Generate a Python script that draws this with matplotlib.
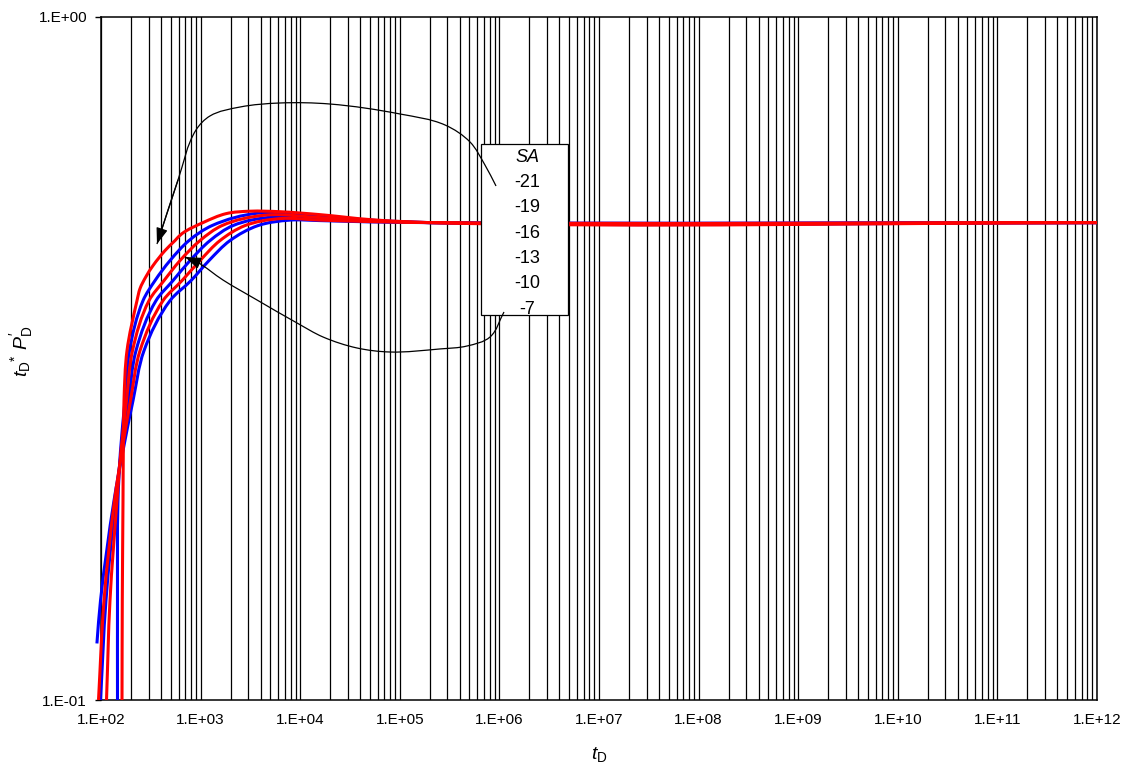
import numpy as np
import matplotlib
matplotlib.use("Agg")
import matplotlib.pyplot as plt
from matplotlib.path import Path
from matplotlib.patches import PathPatch, Rectangle
from matplotlib.ticker import LogLocator, NullLocator, NullFormatter

plt.rcParams['font.family'] = ['Liberation Sans', 'DejaVu Sans']
plt.rcParams['mathtext.fontset'] = 'custom'
plt.rcParams['mathtext.rm'] = 'Liberation Sans'
plt.rcParams['mathtext.it'] = 'Liberation Sans:italic'
plt.rcParams['mathtext.fallback'] = 'stixsans'

# ---- type-curve data: dimensionless time vs. tD*PD' for each SA value ----
sa_values = [-21, -19, -16, -13, -10, -7]
series_colors = ['red', 'blue', 'red', 'blue', 'red', 'blue']

td_sa21 = [162.5, 163.6, 166.3, 167.5, 170.2, 182.4, 229.8, 246.4, 283.0, 332.7,
           439.1, 553.3, 650.5, 1057, 1799, 3133, 6268, 15800, 50220, 201000, 1e12]
dp_sa21 = [0.100, 0.1399, 0.1959, 0.2318, 0.2744, 0.3247, 0.3843, 0.4003, 0.4168, 0.4325,
           0.4550, 0.4706, 0.4818, 0.5000, 0.5153, 0.5196, 0.5187, 0.5136, 0.5051, 0.5000, 0.5000]

td_sa19 = [146.4, 146.4, 148.1, 157.0, 174.2, 193.2, 264.1, 348.4, 492.9, 764.4,
           1302, 3770, 15800, 50220, 201000, 1e12]
dp_sa19 = [0.100, 0.1399, 0.1959, 0.2318, 0.2744, 0.3247, 0.3843, 0.4112, 0.4399, 0.4706,
           0.4950, 0.5162, 0.5110, 0.5042, 0.5000, 0.5000]

td_sa16 = [113.6, 123.1, 144.7, 158.8, 180.3, 207.2, 303.3, 429.1, 621.1, 986.3,
           1640, 4432, 15800, 50220, 201000, 1e12]
dp_sa16 = [0.100, 0.1399, 0.1959, 0.2318, 0.2744, 0.3247, 0.3843, 0.4112, 0.4399, 0.4706,
           0.4950, 0.5127, 0.5085, 0.5034, 0.5000, 0.5000]

td_sa13 = [98.9, 112.2, 139.8, 160.6, 188.9, 224.6, 356.6, 528.3, 782.8, 1243,
           2115, 5212, 15800, 50220, 201000, 1e12]
dp_sa13 = [0.100, 0.1399, 0.1959, 0.2318, 0.2744, 0.3247, 0.3843, 0.4112, 0.4399, 0.4706,
           0.4950, 0.5093, 0.5059, 0.5025, 0.5000, 0.5000]

td_sa10 = [94.4, 107.2, 136.7, 162.5, 197.8, 246.4, 419.3, 650.5, 986.3, 1566,
           2792, 6268, 15800, 50220, 201000, 1e12]
dp_sa10 = [0.100, 0.1399, 0.1959, 0.2318, 0.2744, 0.3247, 0.3843, 0.4112, 0.4399, 0.4706,
           0.4950, 0.5068, 0.5042, 0.5017, 0.5000, 0.5000]

td_sa7 = [91.0, 98.9, 135.1, 166.3, 209.6, 270.3, 492.9, 801.0, 1214, 1973,
          3770, 7898, 15800, 50220, 201000, 1e12]
dp_sa7 = [0.1210, 0.1399, 0.1959, 0.2318, 0.2744, 0.3247, 0.3843, 0.4112, 0.4399, 0.4706,
          0.4950, 0.5042, 0.5034, 0.5012, 0.5000, 0.5000]

series_td = [td_sa21, td_sa19, td_sa16, td_sa13, td_sa10, td_sa7]
series_dp = [dp_sa21, dp_sa19, dp_sa16, dp_sa13, dp_sa10, dp_sa7]

xtick_values = [1e2, 1e3, 1e4, 1e5, 1e6, 1e7, 1e8, 1e9, 1e10, 1e11, 1e12]
xtick_labels = ['1.E+02', '1.E+03', '1.E+04', '1.E+05', '1.E+06', '1.E+07',
                '1.E+08', '1.E+09', '1.E+10', '1.E+11', '1.E+12']
ytick_values = [0.1, 1.0]
ytick_labels = ['1.E-01', '1.E+00']

# callout leader curves (axes fraction), drawn from the arrow tip to the label box
leader_top = [(0.0562, 0.6676), (0.0773, 0.7613), (0.0954, 0.8346), (0.1094, 0.8551),
              (0.1396, 0.8682), (0.1797, 0.8741), (0.2299, 0.8726), (0.3002, 0.8580),
              (0.3454, 0.8419), (0.3705, 0.8170), (0.3855, 0.7833), (0.3966, 0.7526)]
leader_bottom = [(0.0843, 0.6486), (0.0964, 0.6413), (0.1225, 0.6149), (0.1566, 0.5857),
                 (0.1968, 0.5520), (0.2229, 0.5315), (0.2570, 0.5154), (0.2902, 0.5095),
                 (0.3404, 0.5140), (0.3675, 0.5183), (0.3906, 0.5315), (0.4046, 0.5681)]


def smooth_path(P):
    """Cubic Bezier through the points P (N x 2), tangents from unit-vector bisectors."""
    P = np.asarray(P, dtype=float)
    n = len(P)
    T = np.zeros_like(P)
    for i in range(n):
        if i == 0:
            d = P[1] - P[0]
        elif i == n - 1:
            d = P[-1] - P[-2]
        else:
            d1 = P[i] - P[i - 1]
            d2 = P[i + 1] - P[i]
            n1 = np.linalg.norm(d1)
            n2 = np.linalg.norm(d2)
            d = (d1 / n1 if n1 > 0 else 0) + (d2 / n2 if n2 > 0 else 0)
        nd = np.linalg.norm(d)
        T[i] = d / nd if nd > 0 else d
    verts = [P[0]]
    codes = [Path.MOVETO]
    for i in range(n - 1):
        L = np.linalg.norm(P[i + 1] - P[i])
        verts += [P[i] + T[i] * L / 3, P[i + 1] - T[i + 1] * L / 3, P[i + 1]]
        codes += [Path.CURVE4] * 3
    return np.array(verts), codes


W, H, DPI = 1126, 767, 100
fig = plt.figure(figsize=(W / DPI, H / DPI), dpi=DPI)
ax_left, ax_right, ax_bottom, ax_top = 101 / W, 1097 / W, 67 / H, 750 / H
ax = fig.add_axes([ax_left, ax_bottom, ax_right - ax_left, ax_top - ax_bottom])
ax.set_xscale('log')
ax.set_yscale('log')
ax.set_xlim(1e2, 1e12)
ax.set_ylim(0.1, 1.0)

ax_w_px = (ax_right - ax_left) * W
ax_h_px = (ax_top - ax_bottom) * H
px_per_dec_x = ax_w_px / 10.0
px_per_dec_y = ax_h_px / 1.0

# vertical grid on every decade subdivision
ax.xaxis.set_minor_locator(LogLocator(base=10, subs=np.arange(2, 10), numticks=100))
ax.xaxis.set_minor_formatter(NullFormatter())
ax.yaxis.set_minor_locator(NullLocator())
ax.set_axisbelow(True)
ax.grid(True, which='both', axis='x', color='black', lw=0.9)
ax.grid(False, axis='y')

ax.set_xticks(xtick_values, xtick_labels)
ax.set_yticks(ytick_values, ytick_labels)
ax.tick_params(axis='x', which='both', length=0, pad=9, labelsize=11)
ax.tick_params(axis='y', which='major', length=4, width=1, pad=6, labelsize=11)
for s in ax.spines.values():
    s.set_color('black')
    s.set_linewidth(1.1)

# type curves, drawn as smooth lines in log space
draw_order = [1, 3, 5, 0, 2, 4]
for k in draw_order:
    td = np.asarray(series_td[k])
    dp = np.asarray(series_dp[k])
    P = np.column_stack([np.log10(td) * px_per_dec_x, np.log10(dp) * px_per_dec_y])
    v, c = smooth_path(P)
    v_data = np.column_stack([10 ** (v[:, 0] / px_per_dec_x), 10 ** (v[:, 1] / px_per_dec_y)])
    patch = PathPatch(Path(v_data, c), facecolor='none', edgecolor=series_colors[k],
                      lw=2.2, transform=ax.transData, zorder=3, clip_on=False,
                      label=f'SA {sa_values[k]}')
    ax.add_patch(patch)

# SA label box
box_l, box_r = (481 - 101) / 996, (568 - 101) / 996
box_b, box_t = (700 - 315) / 683, (700 - 144) / 683
ax.add_patch(Rectangle((box_l, box_b), box_r - box_l, box_t - box_b, transform=ax.transAxes,
                       facecolor='white', edgecolor='black', lw=0.9, zorder=5))
text_x = (527.5 - 101) / 996
row0 = (700 - 157) / 683
row_step = 25.4 / 683
ax.text(text_x, row0, 'SA', style='italic', transform=ax.transAxes, ha='center', va='center',
        fontsize=13, zorder=6)
for i, sa in enumerate(sa_values):
    ax.text(text_x, row0 - (i + 1) * row_step, f'{sa}', transform=ax.transAxes,
            ha='center', va='center', fontsize=13, zorder=6)

# leader curves with arrowheads
for pts in (leader_top, leader_bottom):
    P = np.array(pts) * np.array([ax_w_px, ax_h_px])
    v, c = smooth_path(P)
    v_ax = v / np.array([ax_w_px, ax_h_px])
    ax.add_patch(PathPatch(Path(v_ax, c), facecolor='none', edgecolor='black', lw=0.9,
                           transform=ax.transAxes, zorder=7))
    ax.annotate('', xy=pts[0], xytext=pts[1], xycoords='axes fraction',
                textcoords='axes fraction',
                arrowprops=dict(arrowstyle='-|>,head_length=0.7,head_width=0.25',
                                color='black', lw=0.9, shrinkA=0, shrinkB=0,
                                mutation_scale=14),
                zorder=7)

ax.set_xlabel(r'$t_{\mathrm{D}}$', fontsize=14, labelpad=13)
ax.set_ylabel(r"$t_{\mathrm{D}}{}^{*}\ P_{\mathrm{D}}^{\prime}$", fontsize=14)
ax.yaxis.set_label_coords(-0.066, 0.51)

fig.savefig('out.png', dpi=DPI)
